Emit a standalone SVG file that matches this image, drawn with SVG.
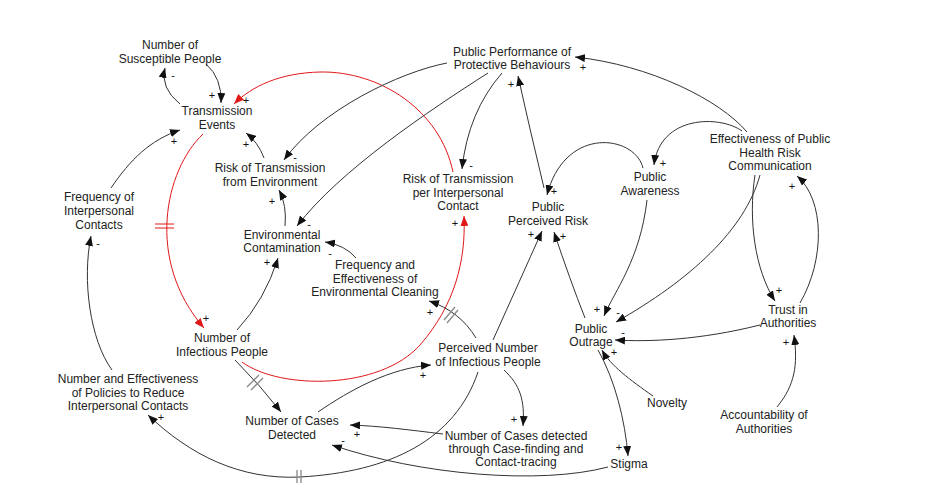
<svg xmlns="http://www.w3.org/2000/svg" width="937" height="494" viewBox="0 0 937 494">
<defs>
<marker id="ah" markerUnits="userSpaceOnUse" markerWidth="10" markerHeight="8" refX="10" refY="4" orient="auto"><path d="M0,0 L10,4 L0,8 z" fill="#111"/></marker>
<marker id="ahr" markerUnits="userSpaceOnUse" markerWidth="10" markerHeight="8" refX="10" refY="4" orient="auto"><path d="M0,0 L10,4 L0,8 z" fill="#e01818"/></marker>
</defs>
<style>
.n{font-family:"Liberation Sans",Arial,sans-serif;font-size:12px;fill:#222;text-anchor:middle}
.p{font-family:"Liberation Sans",Arial,sans-serif;font-size:11px;fill:#111;text-anchor:middle}
.l{fill:none;stroke:#333;stroke-width:1;marker-end:url(#ah)}
.r{fill:none;stroke:#e01818;stroke-width:1;marker-end:url(#ahr)}
.d{stroke:#888;stroke-width:1.3;fill:none}
.dr{stroke:#e01818;stroke-width:1;fill:none}
</style>
<rect width="937" height="494" fill="#fff"/>
<g id="connectors">
<path class="l" d="M180,104 Q160,88 165,68"/>
<path class="l" d="M206,64 Q222,78 221,103"/>
<path class="r" d="M453,172 C440,110 380,71 320,72 C280,73 252,86 234,104"/>
<path class="r" d="M203,134 C165,170 145,260 204,328"/>
<path class="dr" d="M155,224 H174 M155,228 H174"/>
<path class="r" d="M242,362 C280,390 380,390 420,345 C455,305 466,260 464,216"/>
<path class="l" d="M237,330 Q265,300 278,258"/>
<path class="l" d="M285,226 Q287,205 279,190"/>
<path class="l" d="M264,158 Q258,142 246,133"/>
<path class="l" d="M447,63 C400,72 320,110 284,160"/>
<path class="l" d="M488,73 C430,110 340,170 297,226"/>
<path class="l" d="M502,73 Q468,112 462,169"/>
<path class="l" d="M544,188 Q530,130 518,76"/>
<path class="l" d="M643,168 C635,135 565,125 547,195"/>
<path class="l" d="M747,132 C720,100 650,65 575,57"/>
<path class="l" d="M742,131 C720,115 660,115 654,165"/>
<path class="l" d="M647,200 C640,260 615,290 604,316"/>
<path class="l" d="M760,175 C745,230 690,280 616,322"/>
<path class="l" d="M755,175 C748,220 755,270 775,301"/>
<path class="l" d="M800,303 C825,260 825,200 797,176"/>
<path class="l" d="M760,325 C700,340 650,342 615,340"/>
<path class="l" d="M777,407 C795,385 798,365 794,335"/>
<path class="l" d="M653,396 C630,380 610,365 602,350"/>
<path class="l" d="M598,350 C615,380 625,420 628,456"/>
<path class="l" d="M585,318 Q570,280 554,232"/>
<path class="l" d="M493,340 Q520,280 542,231"/>
<path class="l" d="M476,338 C465,320 450,308 429,301"/>
<path class="d" d="M444,320 L455,307 M447,323 L458,310"/>
<path class="l" d="M356,258 Q345,245 325,242"/>
<path class="l" d="M318,412 C350,390 390,368 431,365"/>
<path class="l" d="M504,370 C520,385 525,400 523,426"/>
<path class="l" d="M443,434 C410,430 380,426 350,425"/>
<path class="l" d="M608,467 C540,485 420,475 332,445"/>
<path class="l" d="M478,372 C455,440 390,472 300,477 C240,480 190,455 148,415"/>
<path class="d" d="M297,470 V483 M301,470 V483"/>
<path class="l" d="M112,370 C90,340 82,280 91,236"/>
<path class="l" d="M111,188 C130,160 150,140 180,130"/>
<path class="l" d="M235,360 Q260,385 281,412"/>
<path class="d" d="M247,387 L259,375 M251,390 L263,378"/>
</g>
<g id="polarities">
<text class="p" x="173" y="79">-</text>
<text class="p" x="212" y="99">+</text>
<text class="p" x="246" y="104">+</text>
<text class="p" x="206" y="322">+</text>
<text class="p" x="455" y="227">+</text>
<text class="p" x="267" y="266">+</text>
<text class="p" x="272" y="205">+</text>
<text class="p" x="246" y="148">+</text>
<text class="p" x="295" y="161">-</text>
<text class="p" x="309" y="228">-</text>
<text class="p" x="471" y="169">-</text>
<text class="p" x="511" y="88">+</text>
<text class="p" x="554" y="195">+</text>
<text class="p" x="583" y="71">+</text>
<text class="p" x="663" y="167">+</text>
<text class="p" x="597" y="313">+</text>
<text class="p" x="618" y="316">-</text>
<text class="p" x="779" y="294">+</text>
<text class="p" x="792" y="190">+</text>
<text class="p" x="623" y="336">-</text>
<text class="p" x="786" y="346">+</text>
<text class="p" x="614" y="356">+</text>
<text class="p" x="619" y="451">+</text>
<text class="p" x="563" y="240">+</text>
<text class="p" x="531" y="238">+</text>
<text class="p" x="430" y="316">+</text>
<text class="p" x="330" y="257">-</text>
<text class="p" x="423" y="379">+</text>
<text class="p" x="514" y="423">+</text>
<text class="p" x="357" y="438">+</text>
<text class="p" x="343" y="444">-</text>
<text class="p" x="161" y="421">+</text>
<text class="p" x="98" y="247">-</text>
<text class="p" x="174" y="145">+</text>
</g>
<g id="n-susceptible"><text class="n" x="170" y="49">Number of</text><text class="n" x="170" y="63">Susceptible People</text></g>
<g id="n-transmission"><text class="n" x="217" y="115">Transmission</text><text class="n" x="217" y="129">Events</text></g>
<g id="n-freq-contacts"><text class="n" x="99" y="201">Frequency of</text><text class="n" x="99" y="215">Interpersonal</text><text class="n" x="99" y="229">Contacts</text></g>
<g id="n-risk-env"><text class="n" x="270" y="172">Risk of Transmission</text><text class="n" x="270" y="186">from Environment</text></g>
<g id="n-env-contam"><text class="n" x="282" y="239">Environmental</text><text class="n" x="282" y="252">Contamination</text></g>
<g id="n-cleaning"><text class="n" x="375" y="269">Frequency and</text><text class="n" x="375" y="283">Effectiveness of</text><text class="n" x="375" y="296">Environmental Cleaning</text></g>
<g id="n-infectious"><text class="n" x="222" y="342">Number of</text><text class="n" x="222" y="356">Infectious People</text></g>
<g id="n-risk-contact"><text class="n" x="458" y="183">Risk of Transmission</text><text class="n" x="458" y="197">per Interpersonal</text><text class="n" x="458" y="210">Contact</text></g>
<g id="n-performance"><text class="n" x="512" y="56">Public Performance of</text><text class="n" x="512" y="69">Protective Behaviours</text></g>
<g id="n-perceived-risk"><text class="n" x="548" y="211">Public</text><text class="n" x="548" y="225">Perceived Risk</text></g>
<g id="n-awareness"><text class="n" x="650" y="181">Public</text><text class="n" x="650" y="195">Awareness</text></g>
<g id="n-communication"><text class="n" x="770" y="143">Effectiveness of Public</text><text class="n" x="770" y="157">Health Risk</text><text class="n" x="770" y="170">Communication</text></g>
<g id="n-trust"><text class="n" x="788" y="314">Trust in</text><text class="n" x="788" y="327">Authorities</text></g>
<g id="n-outrage"><text class="n" x="591" y="333">Public</text><text class="n" x="591" y="346">Outrage</text></g>
<g id="n-novelty"><text class="n" x="667" y="407">Novelty</text></g>
<g id="n-accountability"><text class="n" x="764" y="419">Accountability of</text><text class="n" x="764" y="433">Authorities</text></g>
<g id="n-stigma"><text class="n" x="629" y="468">Stigma</text></g>
<g id="n-case-finding"><text class="n" x="516" y="440">Number of Cases detected</text><text class="n" x="516" y="453">through Case-finding and</text><text class="n" x="516" y="466">Contact-tracing</text></g>
<g id="n-perceived-number"><text class="n" x="488" y="352">Perceived Number</text><text class="n" x="488" y="366">of Infectious People</text></g>
<g id="n-cases-detected"><text class="n" x="292" y="425">Number of Cases</text><text class="n" x="292" y="439">Detected</text></g>
<g id="n-policies"><text class="n" x="128" y="383">Number and Effectiveness</text><text class="n" x="128" y="397">of Policies to Reduce</text><text class="n" x="128" y="410">Interpersonal Contacts</text></g>
</svg>
